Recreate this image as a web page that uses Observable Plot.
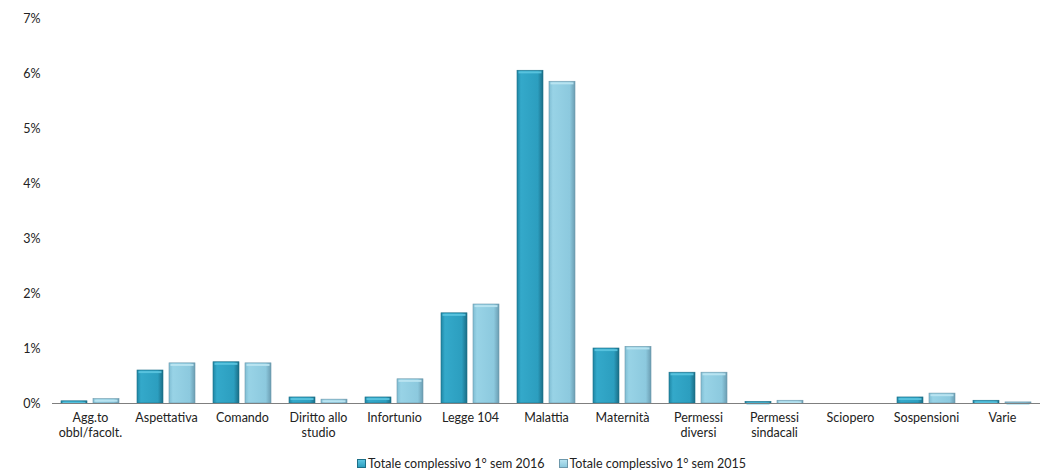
<!DOCTYPE html>
<html><head><meta charset="utf-8">
<script src="https://cdn.jsdelivr.net/npm/d3@7"></script>
<script src="https://cdn.jsdelivr.net/npm/@observablehq/plot@0.6"></script>
<style>
body{margin:0;background:#fff;font-family:Lato,"Open Sans",sans-serif;}
#legend{display:flex;justify-content:center;gap:14px;font-size:12.5px;color:#222;margin-top:6px;margin-left:56px}
#legend span{display:inline-flex;align-items:center}
#legend i{display:inline-block;width:7px;height:7px;margin-right:2px}
</style></head>
<body>
<div id="chart"></div>
<div id="legend"></div>
<script>
const categories = ["Agg.to\nobbl/facolt.","Aspettativa","Comando","Diritto allo\nstudio","Infortunio","Legge 104","Malattia","Maternità","Permessi\ndiversi","Permessi\nsindacali","Sciopero","Sospensioni","Varie"];
const series = ["Totale complessivo 1° sem 2016","Totale complessivo 1° sem 2015"];
const values2016 = [0.0004,0.0060,0.0075,0.0011,0.0011,0.0164,0.0605,0.0100,0.0056,0.0003,0,0.0011,0.0005];
const values2015 = [0.0008,0.0073,0.0073,0.0007,0.0044,0.0180,0.0585,0.0103,0.0056,0.0005,0,0.0018,0.0002];
const yTicks = [0,0.01,0.02,0.03,0.04,0.05,0.06,0.07];

const data = [];
categories.forEach((c,i)=>{
  data.push({cat:c, s:series[0], v:values2016[i]});
  data.push({cat:c, s:series[1], v:values2015[i]});
});
const fills = {[series[0]]:"url(#g2016)", [series[1]]:"url(#g2015)"};
const strokes = {[series[0]]:"#1d6f87", [series[1]]:"#6d98ab"};
const tops = {[series[0]]:"#5cc5e0", [series[1]]:"#bde6f2"};

const plot = Plot.plot({
  width:1047, height:450,
  marginLeft:48, marginRight:4, marginTop:18, marginBottom:47,
  style:{fontFamily:"Lato, 'Open Sans', sans-serif", fontSize:"12.5px", color:"#222"},
  fx:{domain:categories, padding:0, label:null, tickSize:0, tickPadding:8},
  x:{domain:series, axis:null, paddingInner:0.18, paddingOuter:0.25},
  y:{domain:[0,0.07], ticks:yTicks, tickFormat:d=>Math.round(d*100)+"%", tickSize:0, tickPadding:12, label:null},
  marks:[
    Plot.axisFx({anchor:"bottom", tickSize:0, tickPadding:8, lineHeight:1.2, fontSize:12.5, label:null}),
    Plot.barY(data,{fx:"cat", x:"s", y:"v", fill:d=>fills[d.s], stroke:d=>strokes[d.s], strokeWidth:0.6}),
    Plot.tickY(data.filter(d=>d.v>0),{fx:"cat", x:"s", y:"v", stroke:d=>tops[d.s], strokeWidth:2, dy:1.6, inset:1.5, strokeOpacity:0.9}),
    Plot.ruleY([0],{stroke:"#7f7f7f", strokeWidth:1})
  ]
});
const ns="http://www.w3.org/2000/svg";
const defs=document.createElementNS(ns,"defs");
defs.innerHTML=`
<linearGradient id="g2016" x1="0" x2="1" y1="0" y2="0">
<stop offset="0" stop-color="#1e86a4"/><stop offset="0.15" stop-color="#34a9ca"/>
<stop offset="0.8" stop-color="#2c9ebf"/><stop offset="1" stop-color="#1a6d86"/></linearGradient>
<linearGradient id="g2015" x1="0" x2="1" y1="0" y2="0">
<stop offset="0" stop-color="#7fbdd3"/><stop offset="0.15" stop-color="#98d3e6"/>
<stop offset="0.8" stop-color="#8cc9de"/><stop offset="1" stop-color="#6b9db2"/></linearGradient>`;
plot.insertBefore(defs, plot.firstChild);
document.getElementById("chart").appendChild(plot);

const lg=document.getElementById("legend");
series.forEach((s,i)=>{
  const sp=document.createElement("span");
  sp.innerHTML=`<i style="background:${i?'linear-gradient(#b8e4f1,#8cc9de)':'linear-gradient(#5cc6e2,#2c9ebf)'};border:1px solid ${strokes[s]}"></i>${s}`;
  lg.appendChild(sp);
});
</script>
</body></html>
